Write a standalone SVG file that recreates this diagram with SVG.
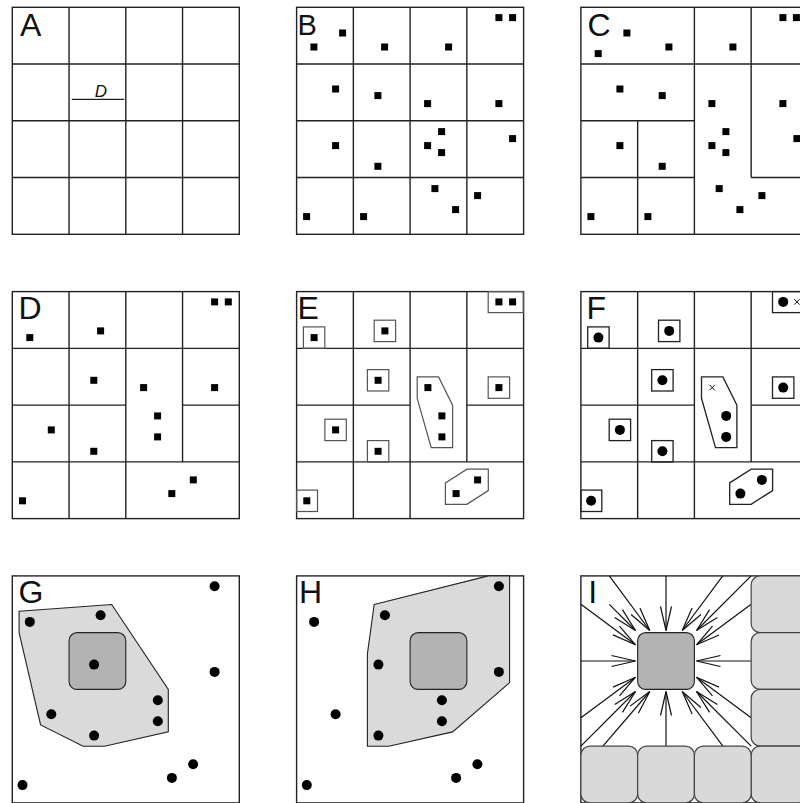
<svg xmlns="http://www.w3.org/2000/svg" xmlns:xlink="http://www.w3.org/1999/xlink" width="800" height="803" viewBox="0 0 800 803">
<style>
.frame{fill:none;stroke:#222;stroke-width:1.4}
.grid{fill:none;stroke:#222;stroke-width:1.4}
.lbl{font-family:"Liberation Sans",Arial,sans-serif;font-size:32px;fill:#111}
.boxE{fill:none;stroke:#555;stroke-width:1.2}
.boxF{fill:none;stroke:#222;stroke-width:1.3}
.hull{fill:#dadada;stroke:#222;stroke-width:1.1}
.core{fill:#b3b3b3;stroke:#222;stroke-width:1.1}
.light{fill:#d9d9d9;stroke:#444;stroke-width:1.2}
.arr{fill:none;stroke:#111;stroke-width:1.2;marker-end:url(#ah)}
.x{fill:none;stroke:#111;stroke-width:1}
</style>
<defs>
<rect id="s" x="-3.5" y="-3.5" width="7" height="7" fill="#000"/>
<circle id="c" r="5" fill="#000"/>
<path id="gFull" class="grid" d="M56.75,0V227M113.5,0V227M170.25,0V227M0,56.75H227M0,113.5H227M0,170.25H227"/>
<path id="gD" class="grid" d="M56.75,0V227M113.5,0V227M170.25,0V170.25M0,56.75H227M0,113.5H113.5M170.25,113.5H227M0,170.25H227"/>
<marker id="ah" markerUnits="userSpaceOnUse" viewBox="-26 -8 28 16" markerWidth="28" markerHeight="16" refX="0" refY="0" orient="auto">
<path d="M-24,-5.5L0,0L-24,5.5" fill="none" stroke="#111" stroke-width="1.2"/>
</marker>
</defs>
<rect width="800" height="803" fill="#fff"/>

<g id="panelA" transform="translate(12.3,7.3)">
<use href="#gFull"/>
<rect class="frame" width="227" height="227"/>
<text class="lbl" x="7.7" y="28.7">A</text>
<line x1="59.5" y1="92" x2="112" y2="92" stroke="#222" stroke-width="1.2"/>
<text x="88.5" y="90" text-anchor="middle" style="font-family:'Liberation Sans',Arial,sans-serif;font-size:17px;font-style:italic;fill:#111">D</text>
</g>

<g id="panelB" transform="translate(296.6,7.3)">
<use href="#gFull"/>
<rect class="frame" width="227" height="227"/>
<text class="lbl" x="1" y="27.7" style="font-size:29px">B</text>
<g>
<use href="#s" x="46" y="25.7"/><use href="#s" x="17.3" y="39.7"/><use href="#s" x="88" y="39.7"/><use href="#s" x="152" y="39.7"/>
<use href="#s" x="202.3" y="10.3"/><use href="#s" x="216" y="10.3"/><use href="#s" x="39" y="81.7"/><use href="#s" x="81.3" y="88.3"/>
<use href="#s" x="131" y="96.3"/><use href="#s" x="202.3" y="96.3"/><use href="#s" x="39" y="138.3"/><use href="#s" x="145" y="124.3"/>
<use href="#s" x="131" y="138.3"/><use href="#s" x="145" y="145.3"/><use href="#s" x="216" y="131.3"/><use href="#s" x="81.3" y="159"/>
<use href="#s" x="10" y="209.3"/><use href="#s" x="67" y="209.3"/><use href="#s" x="138.3" y="181.3"/><use href="#s" x="159" y="202.3"/>
<use href="#s" x="181" y="188.3"/>
</g>
</g>

<g id="panelC" transform="translate(580.9,7.3)">
<path class="grid" d="M56.75,113.5V227M113.5,0V227M170.25,0V170.25M0,56.75H227M0,113.5H113.5M0,170.25H113.5M170.25,170.25H227"/>
<rect class="frame" width="227" height="227"/>
<text class="lbl" x="6.5" y="28.9">C</text>
<g>
<use href="#s" x="46" y="25.7"/><use href="#s" x="17.3" y="46.3"/><use href="#s" x="88" y="39.7"/><use href="#s" x="152" y="39.7"/>
<use href="#s" x="202" y="10.3"/><use href="#s" x="215.5" y="10.3"/><use href="#s" x="39" y="81.7"/><use href="#s" x="81.3" y="88.3"/>
<use href="#s" x="131" y="96.3"/><use href="#s" x="202" y="96.3"/><use href="#s" x="39" y="138.3"/><use href="#s" x="145" y="124.3"/>
<use href="#s" x="131" y="138.3"/><use href="#s" x="145" y="145.3"/><use href="#s" x="216" y="131.3"/><use href="#s" x="81.3" y="159"/>
<use href="#s" x="10" y="209.3"/><use href="#s" x="67" y="209.3"/><use href="#s" x="138.3" y="181.3"/><use href="#s" x="159" y="202.3"/>
<use href="#s" x="181" y="188.3"/>
</g>
</g>

<g id="panelD" transform="translate(12.3,291.6)">
<use href="#gD"/>
<rect class="frame" width="227" height="227"/>
<text class="lbl" x="6.2" y="27.5">D</text>
<g>
<use href="#s" x="17.5" y="46"/><use href="#s" x="88.3" y="39.3"/><use href="#s" x="202.3" y="10.3"/><use href="#s" x="216" y="10.3"/>
<use href="#s" x="81.5" y="88.7"/><use href="#s" x="131.3" y="96"/><use href="#s" x="202.3" y="96"/><use href="#s" x="39" y="138.3"/>
<use href="#s" x="145.3" y="124.3"/><use href="#s" x="145.3" y="145.3"/><use href="#s" x="81.5" y="159.7"/><use href="#s" x="10.2" y="209.2"/>
<use href="#s" x="159.5" y="202"/><use href="#s" x="181" y="188.3"/>
</g>
</g>

<g id="panelE" transform="translate(296.6,291.6)">
<use href="#gD"/>
<rect class="frame" width="227" height="227"/>
<text class="lbl" x="1" y="27.2">E</text>
<g>
<rect class="boxE" x="6.8" y="35.3" width="21.4" height="21.4"/>
<rect class="boxE" x="77.6" y="28.6" width="21.4" height="21.4"/>
<rect class="boxE" x="191.6" y="0" width="35.1" height="21"/>
<rect class="boxE" x="70.8" y="78" width="21.4" height="21.4"/>
<rect class="boxE" x="191.6" y="85.3" width="21.4" height="21.4"/>
<rect class="boxE" x="28.3" y="127.6" width="21.4" height="21.4"/>
<rect class="boxE" x="70.8" y="149" width="21.4" height="21.4"/>
<rect class="boxE" x="0" y="198.5" width="20.9" height="21.4"/>
<polygon class="boxE" points="120.6,85.3 142,85.3 156,113.6 156,156 134.6,156 120.6,106.7"/>
<polygon class="boxE" points="148.8,191.3 170.3,177.6 191.7,177.6 191.7,199 170.2,212.7 148.8,212.7"/>
</g>
<g>
<use href="#s" x="17.5" y="46"/><use href="#s" x="88.3" y="39.3"/><use href="#s" x="202.3" y="10.3"/><use href="#s" x="216" y="10.3"/>
<use href="#s" x="81.5" y="88.7"/><use href="#s" x="131.3" y="96"/><use href="#s" x="202.3" y="96"/><use href="#s" x="39" y="138.3"/>
<use href="#s" x="145.3" y="124.3"/><use href="#s" x="145.3" y="145.3"/><use href="#s" x="81.5" y="159.7"/><use href="#s" x="10.2" y="209.2"/>
<use href="#s" x="159.5" y="202"/><use href="#s" x="181" y="188.3"/>
</g>
</g>

<g id="panelF" transform="translate(580.9,291.6)">
<use href="#gD"/>
<rect class="frame" width="227" height="227"/>
<text class="lbl" x="5.5" y="27.2">F</text>
<g>
<rect class="boxF" x="6.8" y="35.3" width="21.4" height="21.4"/>
<rect class="boxF" x="77.6" y="28.6" width="21.4" height="21.4"/>
<rect class="boxF" x="191.6" y="0" width="35.1" height="21"/>
<rect class="boxF" x="70.8" y="78" width="21.4" height="21.4"/>
<rect class="boxF" x="191.6" y="85.3" width="21.4" height="21.4"/>
<rect class="boxF" x="28.3" y="127.6" width="21.4" height="21.4"/>
<rect class="boxF" x="70.8" y="149" width="21.4" height="21.4"/>
<rect class="boxF" x="0" y="198.5" width="20.9" height="21.4"/>
<polygon class="boxF" points="120.6,85.3 142,85.3 156,113.6 156,156 134.6,156 120.6,106.7"/>
<polygon class="boxF" points="148.8,191.3 170.3,177.6 191.7,177.6 191.7,199 170.2,212.7 148.8,212.7"/>
</g>
<g>
<use href="#c" x="17.5" y="46"/><use href="#c" x="88.3" y="39.3"/><use href="#c" x="202.3" y="10.3"/>
<use href="#c" x="81.5" y="88.7"/><use href="#c" x="202.3" y="96"/><use href="#c" x="39" y="138.3"/>
<use href="#c" x="145.3" y="124.3"/><use href="#c" x="145.3" y="145.3"/><use href="#c" x="81.5" y="159.7"/><use href="#c" x="10.2" y="209.2"/>
<use href="#c" x="159.5" y="202"/><use href="#c" x="181" y="188.3"/>
<path class="x" d="M213.3,7.6L218.7,13M213.3,13L218.7,7.6M128.6,93.3L134,98.7M128.6,98.7L134,93.3"/>
</g>
</g>

<g id="panelG" transform="translate(12.3,575.9)">
<rect class="frame" width="227" height="227"/>
<text class="lbl" x="6.2" y="27">G</text>
<polygon class="hull" points="6.8,35.3 99.4,28.6 156,113.6 156,156 92.2,170.4 70.8,170.4 28.3,149 6.8,56.7"/>
<rect class="core" x="56.75" y="56.75" width="56.75" height="56.75" rx="8"/>
<g>
<use href="#c" x="17.5" y="46"/><use href="#c" x="88.3" y="39.3"/><use href="#c" x="202.3" y="10.3"/>
<use href="#c" x="81.8" y="88.7"/><use href="#c" x="202.3" y="96"/><use href="#c" x="39" y="138.3"/>
<use href="#c" x="145.5" y="124.3"/><use href="#c" x="145.5" y="145.3"/><use href="#c" x="81.8" y="159.7"/><use href="#c" x="10.2" y="209.2"/>
<use href="#c" x="159.6" y="202"/><use href="#c" x="180.8" y="188.3"/>
</g>
</g>

<g id="panelH" transform="translate(296.6,575.9)">
<rect class="frame" width="227" height="227"/>
<text class="lbl" x="2.5" y="27">H</text>
<polygon class="hull" points="77.6,28.6 191.6,0 213,0 213,106.7 156,156 92.2,170.4 70.8,170.4 70.8,78"/>
<rect class="core" x="113.5" y="56.75" width="56.75" height="56.75" rx="8"/>
<g>
<use href="#c" x="17.5" y="46"/><use href="#c" x="88.3" y="39.3"/><use href="#c" x="202.3" y="10.3"/>
<use href="#c" x="81.8" y="88.7"/><use href="#c" x="202.3" y="96"/><use href="#c" x="39" y="138.3"/>
<use href="#c" x="145.3" y="124.3"/><use href="#c" x="145.3" y="145.3"/><use href="#c" x="81.8" y="159.7"/><use href="#c" x="10.2" y="209.2"/>
<use href="#c" x="159.5" y="202"/><use href="#c" x="180.8" y="188.3"/>
</g>
</g>

<g id="panelI" transform="translate(580.9,575.9)">
<rect class="frame" width="227" height="227"/>
<text class="lbl" x="7.3" y="27">I</text>
<g id="connectors">
<line class="arr" x1="28.4" y1="0" x2="68.9" y2="54.6"/>
<line class="arr" x1="85.1" y1="0" x2="85.1" y2="54.6"/>
<line class="arr" x1="141.85" y1="0" x2="101.3" y2="54.6"/>
<line class="arr" x1="170.25" y1="0" x2="115.6" y2="54.6"/>
<line class="arr" x1="28.4" y1="28.4" x2="54.6" y2="54.6"/>
<line class="arr" x1="0" y1="28.4" x2="54.6" y2="68.9"/>
<line class="arr" x1="0" y1="85.1" x2="54.6" y2="85.1"/>
<line class="arr" x1="0" y1="141.85" x2="54.6" y2="101.3"/>
<line class="arr" x1="0" y1="170.25" x2="54.6" y2="115.6"/>
<line class="arr" x1="170.25" y1="28.4" x2="115.6" y2="68.9"/>
<line class="arr" x1="170.25" y1="85.1" x2="115.6" y2="85.1"/>
<line class="arr" x1="170.25" y1="141.85" x2="115.6" y2="101.3"/>
<line class="arr" x1="170.25" y1="170.25" x2="115.6" y2="115.6"/>
<line class="arr" x1="22" y1="170.25" x2="68.9" y2="115.6"/>
<line class="arr" x1="85.1" y1="170.25" x2="85.1" y2="115.6"/>
<line class="arr" x1="142" y1="170.25" x2="101.3" y2="115.6"/>
</g>
<g>
<rect class="light" x="170.25" y="0" width="56.75" height="56.75" rx="9"/>
<rect class="light" x="170.25" y="56.75" width="56.75" height="56.75" rx="9"/>
<rect class="light" x="170.25" y="113.5" width="56.75" height="56.75" rx="9"/>
<rect class="light" x="170.25" y="170.25" width="56.75" height="56.75" rx="9"/>
<rect class="light" x="0" y="170.25" width="56.75" height="56.75" rx="9"/>
<rect class="light" x="56.75" y="170.25" width="56.75" height="56.75" rx="9"/>
<rect class="light" x="113.5" y="170.25" width="56.75" height="56.75" rx="9"/>
</g>
<rect class="core" x="56.75" y="56.75" width="56.75" height="56.75" rx="8"/>
</g>
</svg>
